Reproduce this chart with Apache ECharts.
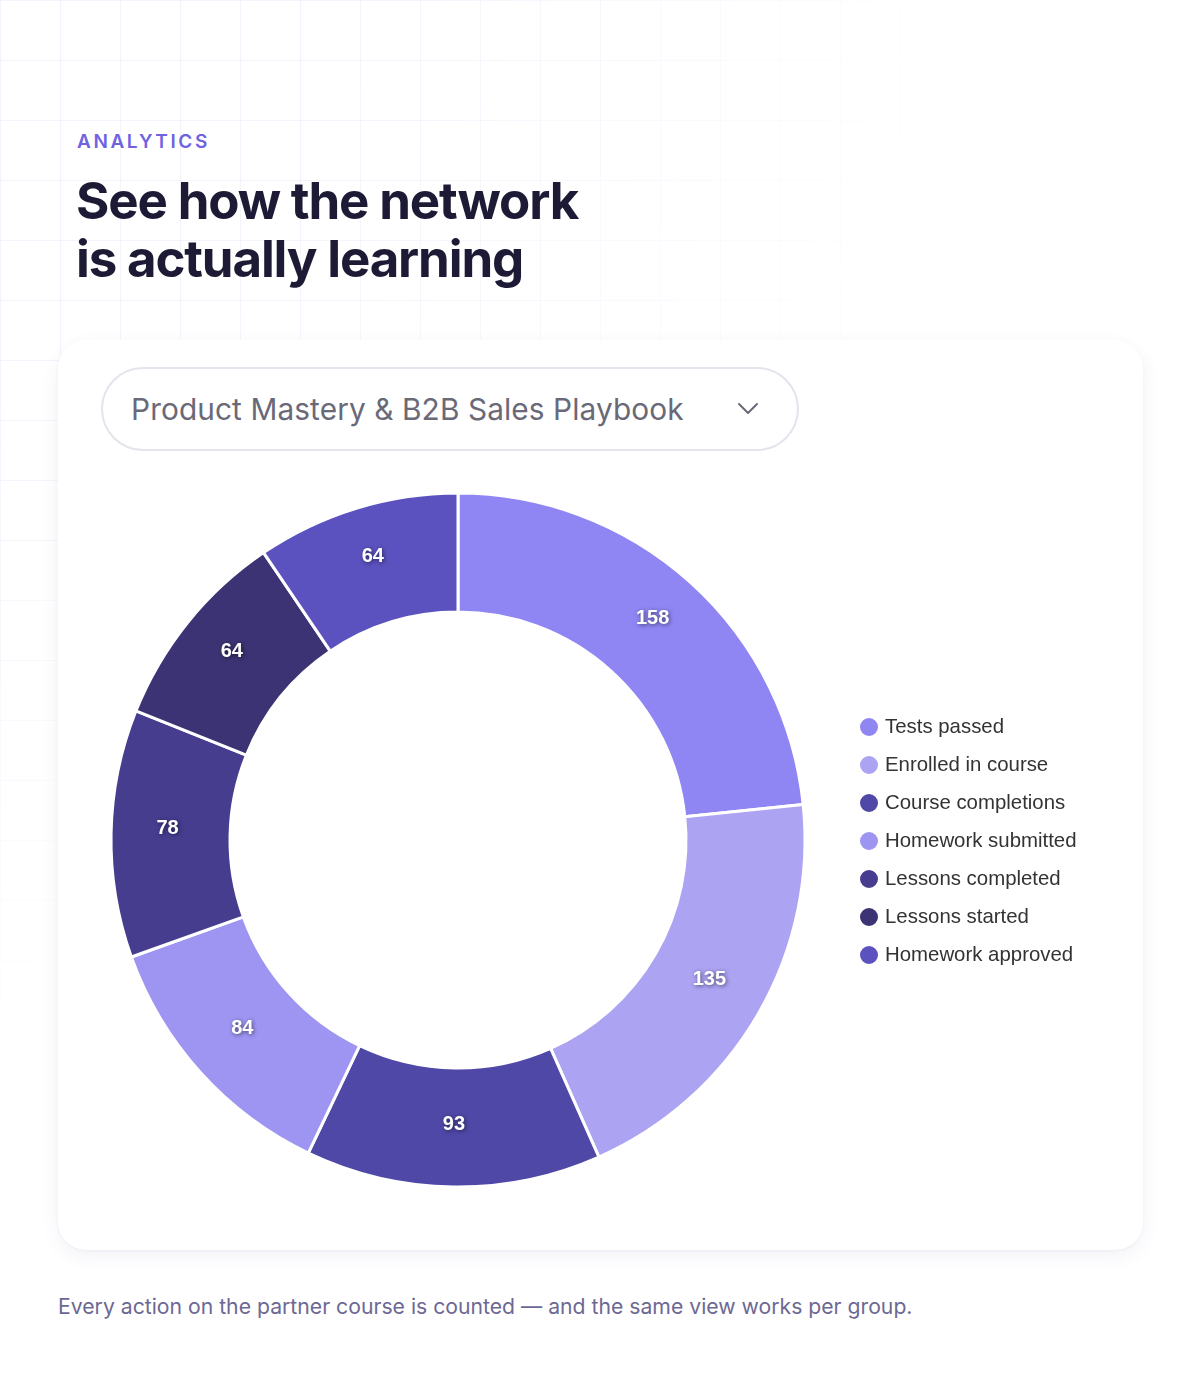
<!DOCTYPE html>
<html>
<head>
<meta charset="utf-8">
<script src="https://cdn.jsdelivr.net/npm/echarts@6/dist/echarts.min.js"></script>
<style>
  html, body { margin: 0; padding: 0; background: #ffffff; }
  body { width: 1200px; height: 1400px; position: relative; overflow: hidden; font-family: Inter, "Noto Sans", sans-serif; }
  .grid {
    position: absolute; left: 0; top: 0; width: 1200px; height: 1400px;
    background-image:
      linear-gradient(to right, rgba(108,99,230,0.07) 1px, transparent 1px),
      linear-gradient(to bottom, rgba(108,99,230,0.07) 1px, transparent 1px);
    background-size: 60px 60px;
    -webkit-mask-image: radial-gradient(ellipse 1000px 1100px at 0 0, #000 35%, transparent 100%);
    mask-image: radial-gradient(ellipse 1000px 1100px at 0 0, #000 35%, transparent 100%);
  }
  .eyebrow {
    position: absolute; left: 77px; top: 130px; margin: 0;
    font-size: 19px; font-weight: 600; letter-spacing: 2.6px; color: #6f63e2; line-height: 24px;
  }
  .title {
    position: absolute; left: 76px; top: 172px; margin: 0;
    font-size: 51px; font-weight: 700; letter-spacing: -1.15px; color: #1d1a36; line-height: 58px;
  }
  .card {
    position: absolute; left: 58px; top: 340px; width: 1085px; height: 910px;
    background: #ffffff; border-radius: 28px;
    box-shadow: 0 6px 18px rgba(70,60,140,0.07), 0 1px 3px rgba(70,60,140,0.04);
  }
  .select {
    position: absolute; left: 101px; top: 367px; width: 694px; height: 80px;
    border: 2px solid #e5e3ec; border-radius: 42px; background: #fff;
  }
  .select span {
    position: absolute; left: 28px; top: 20px; font-size: 29.8px; color: #6a6978; line-height: 40px; letter-spacing: 0.1px;
  }
  .select svg { position: absolute; left: 634px; top: 33px; }
  #chart { position: absolute; left: 58px; top: 460px; width: 1085px; height: 760px; }
  .caption {
    position: absolute; left: 58px; top: 1293px; margin: 0;
    font-size: 21.2px; color: #6d6893; line-height: 26px;
  }
</style>
</head>
<body>
<div class="grid"></div>
<p class="eyebrow">ANALYTICS</p>
<h1 class="title">See how the network<br>is actually learning</h1>
<div class="card"></div>
<div class="select"><span>Product Mastery &amp; B2B Sales Playbook</span>
  <svg width="22" height="14" viewBox="0 0 22 14"><polyline points="2,2 11,11 20,2" fill="none" stroke="#6a6978" stroke-width="2" stroke-linecap="round" stroke-linejoin="round"/></svg>
</div>
<div id="chart"></div>
<p class="caption">Every action on the partner course is counted — and the same view works per group.</p>
<script>
const categories = ['Tests passed', 'Enrolled in course', 'Course completions', 'Homework submitted', 'Lessons completed', 'Lessons started', 'Homework approved'];
const values = [158, 135, 93, 84, 78, 64, 64];
const colors = ['#8f86f3', '#aca3f3', '#4f48a6', '#9d95f1', '#463d8f', '#3b3373', '#5c52bf'];

const chart = echarts.init(document.getElementById('chart'), null, { renderer: 'canvas' });
chart.setOption({
  animation: false,
  color: colors,
  legend: {
    orient: 'vertical',
    left: 800,
    top: 256,
    padding: 0,
    icon: 'circle',
    itemWidth: 20,
    itemHeight: 20,
    itemGap: 16,
    textStyle: { fontSize: 20.4, color: '#333333', fontFamily: 'Liberation Sans, Arial, sans-serif', padding: [0, 0, 0, 1], lineHeight: 20 },
    data: categories
  },
  series: [{
    type: 'pie',
    center: [400, 380],
    radius: [228, 347],
    startAngle: 90,
    clockwise: true,
    itemStyle: { borderColor: '#ffffff', borderWidth: 3 },
    label: {
      show: true,
      position: 'inside',
      formatter: '{v|{c}}\n{s| }',
      color: '#ffffff',
      fontSize: 20,
      fontWeight: 'bold',
      fontFamily: 'Liberation Sans, Arial, sans-serif',
      textShadowColor: 'rgba(0,0,0,0.55)',
      textShadowBlur: 4,
      textShadowOffsetX: 1,
      textShadowOffsetY: 1,
      rich: {
        v: {
          fontSize: 20, lineHeight: 20, fontWeight: 'bold', color: '#ffffff',
          fontFamily: 'Liberation Sans, Arial, sans-serif',
          textShadowColor: 'rgba(0,0,0,0.55)', textShadowBlur: 4, textShadowOffsetX: 1, textShadowOffsetY: 1
        },
        s: { fontSize: 6, lineHeight: 12 }
      }
    },
    labelLine: { show: false },
    emphasis: { disabled: true },
    data: categories.map((n, i) => ({ name: n, value: values[i] }))
  }]
});
</script>
</body>
</html>
